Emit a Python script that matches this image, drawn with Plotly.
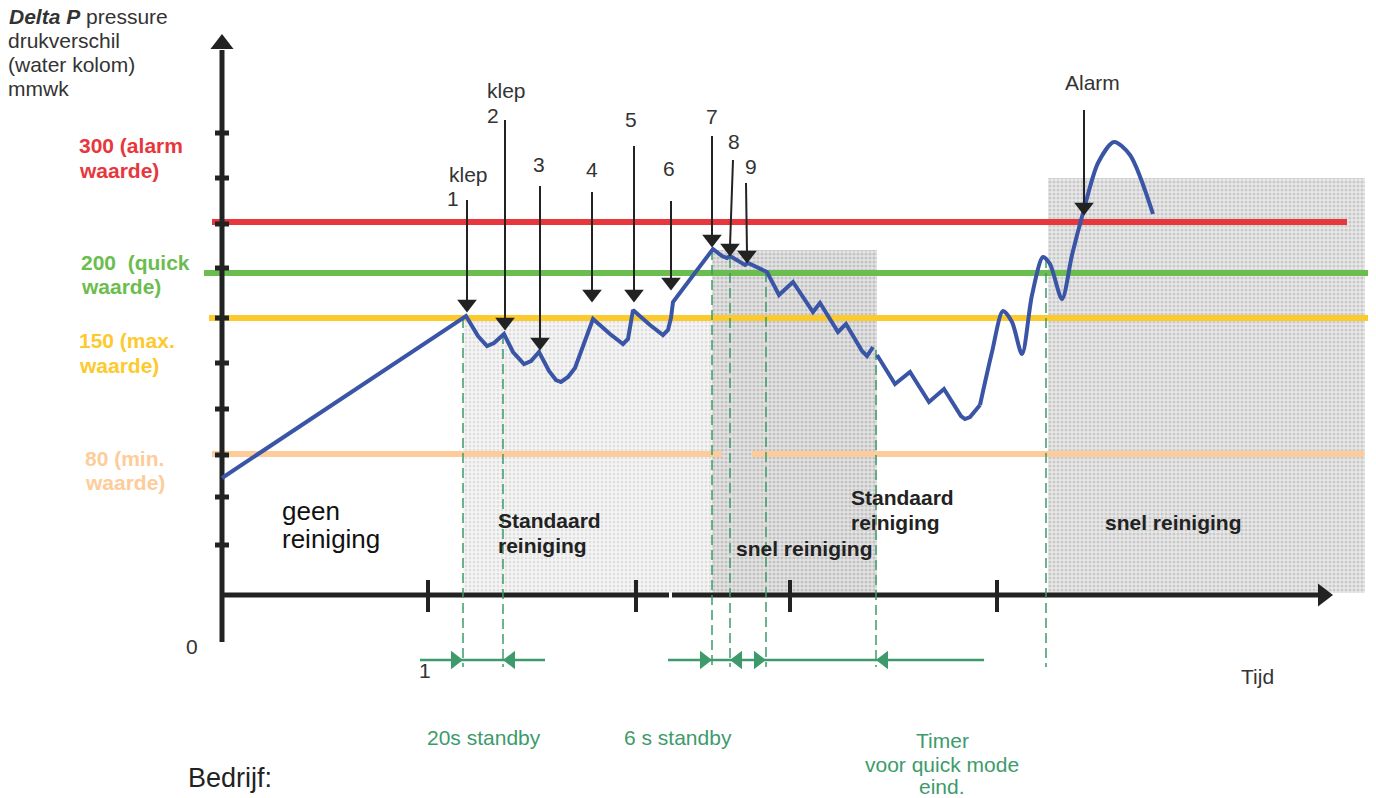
import plotly.graph_objects as go

# ---------------- data (diagram units: x = time position, y = vertical position, top = 0) ----
# threshold levels
level_labels = ["300 (alarm", "200  (quick", "150 (max.", "80 (min."]
level_y = [222, 273, 318, 454]
level_x0 = [212, 204, 209, 212]
level_x1 = [1347, 1368, 1368, 1364]
level_colors = ["#e8373c", "#6cbd4f", "#fdca2e", "#fdcc9a"]
peach_gap = [722, 752]

# pressure curve, part A (before timer end)
curve_a_x = [222, 466, 478, 487, 494, 504, 513, 524, 531, 539, 549, 556, 561, 568, 575, 593, 610, 623,
             628, 633, 650, 663, 668, 671, 673, 713, 722, 727, 730, 740, 745, 748, 767, 779, 793,
             813, 820, 838, 846, 862, 867, 873]
curve_a_y = [478, 316, 336, 346, 343, 334, 352, 364, 361, 352, 371, 380, 382, 377, 368, 319, 334, 344,
             339, 310, 325, 335, 330, 318, 302, 249, 256, 258, 256, 262, 265, 263, 272, 295, 282,
             312, 303, 332, 324, 351, 356, 347]
# part B (after timer end), linear part
curve_b_x = [877, 895, 910, 929, 944, 961, 965, 970, 980]
curve_b_y = [355, 384, 372, 402, 389, 416, 419, 417, 405]
# part C (rise to alarm), smooth part
curve_c_x = [980, 992, 1003, 1012, 1022, 1032, 1043, 1050, 1062, 1072, 1083, 1098, 1114, 1130, 1153]
curve_c_y = [405, 352, 311, 322, 354, 295, 257, 264, 299, 255, 213, 163, 142, 155, 214]

# shaded cleaning zones: x0, x1, y_top
zone_x0 = [463, 712, 1048]
zone_x1 = [712, 877, 1365]
zone_top = [318, 250, 178]
zone_bottom = 593

# valve arrows
valve_labels = ["1", "2", "3", "4", "5", "6", "7", "8", "9", "Alarm"]
valve_x_top = [467, 505, 540, 592, 634, 671, 712, 733, 746, 1084]
valve_x_tip = [467, 505, 540, 592, 634, 671, 712, 730, 747, 1084]
valve_top = [200, 120, 186, 192, 146, 201, 136, 160, 183, 110]
valve_tip = [312, 330, 350, 302, 302, 290, 247, 256, 263, 215]

# green dashed timing markers
marker_x = [463, 503, 712, 730, 766, 876, 1046]
marker_top = [318, 334, 250, 258, 272, 350, 258]
marker_bottom = 667

# green timing arrows
timing_segments = [(420, 545), (668, 984)]
timing_right_tips = [463, 712, 766]
timing_left_tips = [503, 730, 876]
timing_y = 660

# axes
y_ticks = [133, 178, 224, 268, 318, 363, 409, 455, 497, 545]
x_ticks = [428, 636, 790, 997]
axis_x = 222
axis_y = 595

FONT = "Liberation Sans, Arial, sans-serif"
DARK = "#222222"
GREEN = "#3d9b6b"
BLUE = "#3a55a6"

fig = go.Figure()
annotations = []

# shaded zones
styles = [
    dict(shape=".", fgcolor="#c8c8c8", bgcolor="#f6f6f6", size=4, solidity=0.45),
    dict(shape=".", fgcolor="#a2a2a2", bgcolor="#e4e4e4", size=4, solidity=0.5),
    dict(shape=".", fgcolor="#acacac", bgcolor="#e9e9e9", size=4, solidity=0.5),
]
for x0, x1, yt, st in zip(zone_x0, zone_x1, zone_top, styles):
    fig.add_trace(go.Scatter(
        x=[x0, x1, x1, x0, x0], y=[yt, yt, zone_bottom, zone_bottom, yt],
        mode="lines", line=dict(width=0), fill="toself",
        fillcolor=st["bgcolor"], fillpattern=st, hoverinfo="skip", showlegend=False))

# threshold lines
for i, (y, x0, x1, c) in enumerate(zip(level_y, level_x0, level_x1, level_colors)):
    if i == 3:
        segs = [(x0, peach_gap[0]), (peach_gap[1], x1)]
    else:
        segs = [(x0, x1)]
    for a, b in segs:
        fig.add_trace(go.Scatter(x=[a, b], y=[y, y], mode="lines",
                                 line=dict(color=c, width=6), hoverinfo="skip", showlegend=False))

# axes lines
fig.add_trace(go.Scatter(x=[axis_x, axis_x], y=[642, 50], mode="lines",
                         line=dict(color=DARK, width=5), hoverinfo="skip", showlegend=False))
fig.add_trace(go.Scatter(x=[axis_x, 669], y=[axis_y, axis_y], mode="lines",
                         line=dict(color=DARK, width=5), hoverinfo="skip", showlegend=False))
fig.add_trace(go.Scatter(x=[672, 1320], y=[axis_y, axis_y], mode="lines",
                         line=dict(color=DARK, width=5), hoverinfo="skip", showlegend=False))
fig.add_trace(go.Scatter(x=[axis_x], y=[44], mode="markers",
                         marker=dict(symbol="triangle-up", size=20, color=DARK),
                         hoverinfo="skip", showlegend=False))
fig.add_trace(go.Scatter(x=[1323], y=[axis_y], mode="markers",
                         marker=dict(symbol="triangle-right", size=20, color=DARK),
                         hoverinfo="skip", showlegend=False))
for t in y_ticks:
    fig.add_trace(go.Scatter(x=[axis_x - 7, axis_x + 7], y=[t, t], mode="lines",
                             line=dict(color=DARK, width=5), hoverinfo="skip", showlegend=False))
for t in x_ticks:
    fig.add_trace(go.Scatter(x=[t, t], y=[580, 612], mode="lines",
                             line=dict(color=DARK, width=4), hoverinfo="skip", showlegend=False))

# green dashed markers
for x, yt in zip(marker_x, marker_top):
    fig.add_trace(go.Scatter(x=[x, x], y=[yt, marker_bottom], mode="lines",
                             line=dict(color=GREEN, width=1.5, dash="10px,5px"),
                             hoverinfo="skip", showlegend=False))

# green timing arrows
for a, b in timing_segments:
    fig.add_trace(go.Scatter(x=[a, b], y=[timing_y, timing_y], mode="lines",
                             line=dict(color=GREEN, width=2.5), hoverinfo="skip", showlegend=False))
fig.add_trace(go.Scatter(x=[t - 8 for t in timing_right_tips], y=[timing_y] * len(timing_right_tips),
                         mode="markers", marker=dict(symbol="triangle-right", size=16, color=GREEN),
                         hoverinfo="skip", showlegend=False))
fig.add_trace(go.Scatter(x=[t + 8 for t in timing_left_tips], y=[timing_y] * len(timing_left_tips),
                         mode="markers", marker=dict(symbol="triangle-left", size=16, color=GREEN),
                         hoverinfo="skip", showlegend=False))

# pressure curve
fig.add_trace(go.Scatter(x=curve_a_x, y=curve_a_y, mode="lines",
                         line=dict(color=BLUE, width=4), hoverinfo="skip", showlegend=False))
fig.add_trace(go.Scatter(x=curve_b_x, y=curve_b_y, mode="lines",
                         line=dict(color=BLUE, width=4), hoverinfo="skip", showlegend=False))
fig.add_trace(go.Scatter(x=curve_c_x, y=curve_c_y, mode="lines",
                         line=dict(color=BLUE, width=4, shape="spline", smoothing=0.8),
                         hoverinfo="skip", showlegend=False))

# valve arrows
for xt, xb, yt, yb in zip(valve_x_top, valve_x_tip, valve_top, valve_tip):
    fig.add_trace(go.Scatter(x=[xt, xb], y=[yt, yb - 10], mode="lines",
                             line=dict(color=DARK, width=2), hoverinfo="skip", showlegend=False))
fig.add_trace(go.Scatter(x=valve_x_tip, y=[t - 8 for t in valve_tip], mode="markers",
                         marker=dict(symbol="triangle-down", size=17, color=DARK),
                         hoverinfo="skip", showlegend=False))


def txt(text, x, y, size=21, color=DARK, bold=False, anchor="left"):
    if bold:
        text = "<b>" + text + "</b>"
    annotations.append(dict(x=x, y=y, xref="x", yref="y", text=text, showarrow=False,
                            xanchor=anchor, yanchor="middle",
                            font=dict(family=FONT, size=size, color=color)))


GRAY = "#333333"
# header
txt("<b><i>Delta P</i></b> pressure", 7, 16, 21, GRAY)
txt("drukverschil", 6, 40, 21, GRAY)
txt("(water kolom)", 6, 64, 21, GRAY)
txt("mmwk", 6, 88, 21, GRAY)

# level labels
lab_pos = [(77, 145, 170), (79, 262, 286), (77, 340, 365), (83, 458, 482)]
for lbl, c, (x, y1, y2) in zip(level_labels, level_colors, lab_pos):
    txt(lbl, x, y1, 21, c, True)
    txt("waarde)", x, y2, 21, c, True)

txt("0", 192, 646, 21, GRAY, anchor="center")

# valve labels
txt("klep", 468, 174, 21, GRAY, anchor="center")
txt("1", 453, 198, 21, GRAY, anchor="center")
txt("klep", 506, 90, 21, GRAY, anchor="center")
txt("2", 493, 115, 21, GRAY, anchor="center")
lbl_xy = [(539, 164), (592, 169), (631, 119), (669, 168), (712, 116), (734, 141), (751, 166)]
for lbl, (x, y) in zip(valve_labels[2:9], lbl_xy):
    txt(lbl, x, y, 21, GRAY, anchor="center")
txt(valve_labels[9], 1092, 82, 21, GRAY, anchor="center")

# zone labels
txt("geen", 280, 511, 26, "#111111")
txt("reiniging", 280, 539, 26, "#111111")
txt("Standaard", 496, 520, 21, "#222222", True)
txt("reiniging", 496, 545, 21, "#222222", True)
txt("snel reiniging", 734, 548, 21, "#222222", True)
txt("Standaard", 849, 497, 21, "#222222", True)
txt("reiniging", 849, 522, 21, "#222222", True)
txt("snel reiniging", 1103, 522, 21, "#222222", True)

# time axis labels
txt("Tijd", 1257, 676, 21, GRAY, anchor="center")
txt("1", 425, 670, 21, GRAY, anchor="center")
txt("20s standby", 484, 737, 21, GREEN, anchor="center")
txt("6 s standby", 678, 737, 21, GREEN, anchor="center")
txt("Timer", 942, 740, 21, GREEN, anchor="center")
txt("voor quick mode", 942, 764, 21, GREEN, anchor="center")
txt("eind.", 942, 786, 21, GREEN, anchor="center")
txt("Bedrijf:", 186, 778, 27, "#222222")

fig.update_layout(
    width=1376, height=798,
    margin=dict(l=0, r=0, t=0, b=0),
    paper_bgcolor="white", plot_bgcolor="white",
    xaxis=dict(range=[0, 1376], visible=False, fixedrange=True),
    yaxis=dict(range=[798, 0], visible=False, fixedrange=True),
    annotations=annotations,
    showlegend=False,
)

fig.write_html("out.html", config={"displayModeBar": False},
               post_script="document.body.style.margin='0';document.body.style.overflow='hidden';")
